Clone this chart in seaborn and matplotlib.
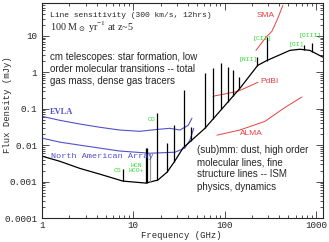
import numpy as np
import pandas as pd
import matplotlib
matplotlib.use("Agg")
import matplotlib.pyplot as plt
import seaborn as sns

# continuum / line sensitivity curve, 100 Msun/yr at z~5 (GHz, mJy)
sed_freq = [1, 1.57, 2.6, 4.3, 7.7, 13.7, 18.6, 23.4, 28, 35, 61, 147, 231, 290, 520, 670, 860, 1200]
sed_flux = [0.0050, 0.0036, 0.0023, 0.0016, 0.00103, 0.00091, 0.0011, 0.0018, 0.0034, 0.0083,
            0.029, 0.36, 1.55, 2.1, 4.0, 4.3, 4.0, 2.6]

# emission lines: observed frequency and peak flux
line_freq = [7.7, 13.8, 14.3, 15.2, 18.2, 23.4, 27.9, 35.8, 42.8, 61, 74.5, 92.6, 109.5, 124, 144,
             228, 290, 740, 920]
line_peak = [0.0022, 0.0083, 0.0083, 0.006, 0.075, 0.0114, 0.035, 0.32, 0.031, 0.94, 1.29, 1.77,
             1.37, 1.13, 0.73, 2.6, 9.1, 5.5, 6.2]
line_grey = [False, False, False, True, False, False, False, False, False, False, False, False,
             False, False, False, False, False, False, False]

# telescope sensitivities
evla_freq = [1, 1.57, 2.6, 4.3, 7.1, 11.8, 18.2, 25, 32.5, 40, 44]
evla_flux = [0.062, 0.048, 0.038, 0.031, 0.026, 0.024, 0.027, 0.029, 0.026, 0.035, 0.055]
naa_freq = [1, 1.57, 2.6, 4.3, 7.1, 15.2, 28.6, 36.7, 41.7, 46]
naa_flux = [0.0156, 0.0121, 0.010, 0.0083, 0.0069, 0.006, 0.0064, 0.0083, 0.0137, 0.029]
sma_freq = [221, 284, 330, 375, 436]
sma_flux = [4.0, 9.1, 13.3, 26.6, 68.6]
pdbi_freq = [74.6, 140, 232]
pdbi_flux = [0.22, 0.30, 0.53]
alma_freq = [82.6, 147, 277, 459, 705]
alma_flux = [0.0188, 0.026, 0.045, 0.108, 0.21]

line_names = ["CS", "HCN\nHCO+", "CO", "[NII]", "[CII]", "[OI]", "[OIII]"]

sns.set_style("ticks")
mono = "Liberation Mono"
serif = "Liberation Serif"
sans = "Liberation Sans"
plt.rcParams["font.family"] = [mono, "DejaVu Sans"]

fig = plt.figure(figsize=(3.29, 2.42), dpi=100)
ax = fig.add_axes([42 / 329, 1 - 218 / 242, 281 / 329, 215 / 242])

blue = "#5050d0"
red = "#e84040"
green = "#33dd33"

def curve(fx, fy, color, lw):
    df = pd.DataFrame({"f": fx, "s": fy})
    sns.lineplot(data=df, x="f", y="s", ax=ax, color=color, lw=lw, estimator=None, sort=False)

curve(evla_freq, evla_flux, blue, 0.8)
curve(naa_freq, naa_flux, blue, 0.8)
curve(sma_freq, sma_flux, red, 0.7)
curve(pdbi_freq, pdbi_flux, red, 0.7)
curve(alma_freq, alma_flux, red, 0.7)
curve(sed_freq, sed_flux, "black", 0.9)

# line bases sit on the continuum curve
base = 10 ** np.interp(np.log10(line_freq), np.log10(sed_freq), np.log10(sed_flux))
for f, b, p, g in zip(line_freq, base, line_peak, line_grey):
    ax.vlines(f, b, p, color="#999999" if g else "black", lw=0.9)

ax.set_xscale("log")
ax.set_yscale("log")
ax.set_xlim(1, 1200)
ax.set_ylim(1e-4, 80)
ax.set_xticks([1, 10, 100, 1000])
ax.set_xticklabels(["1", "10", "100", "1000"])
ax.set_yticks([1e-4, 1e-3, 1e-2, 0.1, 1, 10])
ax.set_yticklabels(["0.0001", "0.001", "0.01", "0.1", "1", "10"])
ax.tick_params(which="both", direction="in", top=True, right=True, labelsize=6.7, width=0.6,
               pad=3.5, color="#333333")
ax.tick_params(axis="x", pad=2)
ax.tick_params(which="major", length=5)
ax.tick_params(which="minor", length=2.5)
for s in ax.spines.values():
    s.set_linewidth(0.8)
ax.set_xlabel("")
ax.set_ylabel("")
fig.text(181 / 329, 1 - 235 / 242, "Frequency (GHz)", ha="center", va="center", fontsize=6.4)
fig.text(8 / 329, 1 - 105 / 242, "Flux Density (mJy)", ha="center", va="center",
         rotation=90, fontsize=6.4)

T = ax.transAxes
ax.text(0.028, 0.944, "Line sensitivity (300 km/s, 12hrs)", transform=T, fontsize=5.8,
        va="center")
ax.text(0.028, 0.884, r"100 M$_\odot$ yr$^{\mathregular{-1}}$ at z~5", transform=T, fontsize=7.3,
        va="center", family=[serif, "DejaVu Serif"])
ax.text(0.028, 0.772, "cm telescopes: star formation, low\norder molecular transitions -- total\n"
        "gas mass, dense gas tracers", transform=T, fontsize=7, va="top",
        linespacing=1.28, family=[sans])
ax.text(0.552, 0.34, "(sub)mm: dust, high order\nmolecular lines, fine\nstructure lines -- ISM\n"
        "physics, dynamics", transform=T, fontsize=7, va="top", linespacing=1.28, family=[sans])
ax.text(0.028, 0.495, "EVLA", transform=T, fontsize=6, va="center", color=blue,
        family=[serif], weight="bold")
ax.text(0.032, 0.288, "North American Array", transform=T, fontsize=6.1, va="center", color=blue)
ax.text(0.797, 0.94, "SMA", transform=T, fontsize=6, ha="center", va="center", color=red,
        family=[sans])
ax.text(0.811, 0.637, "PdBI", transform=T, fontsize=6, ha="center", va="center", color=red,
        family=[sans])
ax.text(0.744, 0.395, "ALMA", transform=T, fontsize=6, ha="center", va="center", color=red,
        family=[sans])

label_pos = [(0.267, 0.221), (0.335, 0.233), (0.39, 0.458), (0.735, 0.735), (0.783, 0.837),
             (0.904, 0.807), (0.954, 0.847)]
for name, (x, y) in zip(line_names, label_pos):
    ax.text(x, y, name, transform=T, fontsize=4.6, ha="center", va="center", color=green,
            linespacing=0.9)

fig.savefig("out.png", dpi=100)
